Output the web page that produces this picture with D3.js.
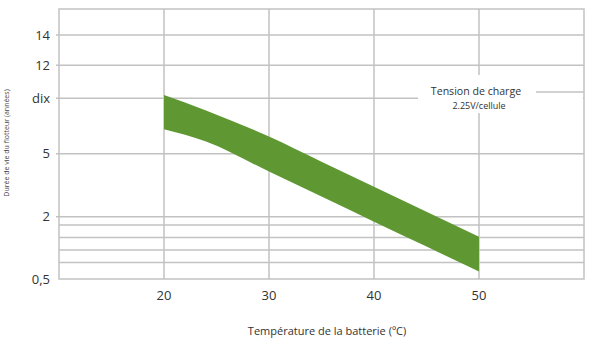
<!DOCTYPE html>
<html>
<head>
<meta charset="utf-8">
<script src="https://cdn.jsdelivr.net/npm/d3@7"></script>
<style>
  html, body { margin: 0; padding: 0; background: #fff; }
  svg { display: block; font-family: "Open Sans", "Noto Sans", sans-serif; }
</style>
</head>
<body>
<svg id="chart" width="594" height="340"></svg>
<script>
// Float life (years) versus battery temperature (°C), shown as a band
const temperatures = [20, 24, 30, 35, 40, 45, 50];
const lifeUpper    = [10.2, 8.9, 6.55, 4.62, 3.43, 2.24, 1.52];
const lifeLower    = [7.2, 6.1, 4.15, 2.96, 1.88, 1.28, 0.68];

const xTicks = [20, 30, 40, 50];
const yTicks = [0.5, 2, 5, 10, 12, 14];
const yTickLabels = ["0,5", "2", "5", "dix", "12", "14"];
const yMinorLines = [1.8, 1.5, 1.2, 0.9];

const xTitle = "Température de la batterie (ºC)";
const yTitle = "Durée de vie du flotteur (années)";
const legendTitle = "Tension de charge";
const legendSub = "2.25V/cellule";

const W = 594, H = 340;
const margin = { top: 9, right: 10, bottom: 61, left: 59 };
const iw = W - margin.left - margin.right;
const ih = H - margin.top - margin.bottom;

const svg = d3.select("#chart");
const g = svg.append("g").attr("transform", `translate(${margin.left},${margin.top})`);

const x = d3.scaleLinear().domain([10, 60]).range([0, iw]);
// Piecewise vertical scale: each labelled span gets its own share of the height
const yDomain = [0.5, 2, 5, 10, 12, 14, 16];
const yShare  = [0, 0.2307, 0.464, 0.6696, 0.7915, 0.9037, 1];
const y = d3.scaleLinear().domain(yDomain).range(yShare.map(f => ih * (1 - f)));

const gridColor = "#c2c2c2";

// horizontal grid lines
g.append("g").selectAll("line")
  .data(yTicks.concat(yMinorLines).filter(v => v > 0.5))
  .join("line")
  .attr("x1", d => yTicks.includes(d) ? -3 : 0).attr("x2", iw)
  .attr("y1", d => y(d)).attr("y2", d => y(d))
  .attr("stroke", gridColor).attr("stroke-width", 1.5);

// vertical grid lines
g.append("g").selectAll("line")
  .data(xTicks)
  .join("line")
  .attr("x1", d => x(d)).attr("x2", d => x(d))
  .attr("y1", 0).attr("y2", ih)
  .attr("stroke", gridColor).attr("stroke-width", 1.5);

// plot frame
g.append("rect")
  .attr("x", 0).attr("y", 0).attr("width", iw).attr("height", ih)
  .attr("fill", "none").attr("stroke", gridColor).attr("stroke-width", 1.5);

// life band
const bandData = temperatures.map((t, i) => ({ t, hi: lifeUpper[i], lo: lifeLower[i] }));
const area = d3.area()
  .x(d => x(d.t))
  .y0(d => y(d.lo))
  .y1(d => y(d.hi))
  .curve(d3.curveMonotoneX);
g.append("path").datum(bandData).attr("d", area).attr("fill", "#5f9833");

// y tick labels
g.append("g").selectAll("text")
  .data(yTicks)
  .join("text")
  .attr("x", -9).attr("y", d => y(d))
  .attr("dy", "0.35em")
  .attr("text-anchor", "end")
  .attr("font-size", 13).attr("fill", "#333")
  .text((d, i) => yTickLabels[i]);

// x tick labels
g.append("g").selectAll("text")
  .data(xTicks)
  .join("text")
  .attr("x", d => x(d)).attr("y", ih + 16)
  .attr("dy", "0.35em")
  .attr("text-anchor", "middle")
  .attr("font-size", 13).attr("fill", "#333")
  .text(d => d);

// axis titles
svg.append("text")
  .attr("x", 327).attr("y", 331).attr("dy", "0.35em")
  .attr("text-anchor", "middle").attr("font-size", 11).attr("fill", "#333")
  .text(xTitle);

svg.append("text")
  .attr("transform", "translate(7,143) rotate(-90)")
  .attr("dy", "0.35em")
  .attr("text-anchor", "middle").attr("font-size", 7).attr("fill", "#444")
  .text(yTitle);

// legend box
const lg = g.append("g");
lg.append("rect")
  .attr("x", 359).attr("y", 66).attr("width", iw - 359 - 1).attr("height", 38)
  .attr("fill", "#fff");
lg.append("line")
  .attr("x1", 477).attr("x2", iw).attr("y1", 83).attr("y2", 83)
  .attr("stroke", gridColor).attr("stroke-width", 1.5);
lg.append("text")
  .attr("x", 417).attr("y", 82).attr("dy", "0.35em")
  .attr("text-anchor", "middle").attr("font-size", 10.6).attr("fill", "#333")
  .text(legendTitle);
lg.append("text")
  .attr("x", 420).attr("y", 97).attr("dy", "0.35em")
  .attr("text-anchor", "middle").attr("font-size", 9).attr("fill", "#333")
  .text(legendSub);
</script>
</body>
</html>
